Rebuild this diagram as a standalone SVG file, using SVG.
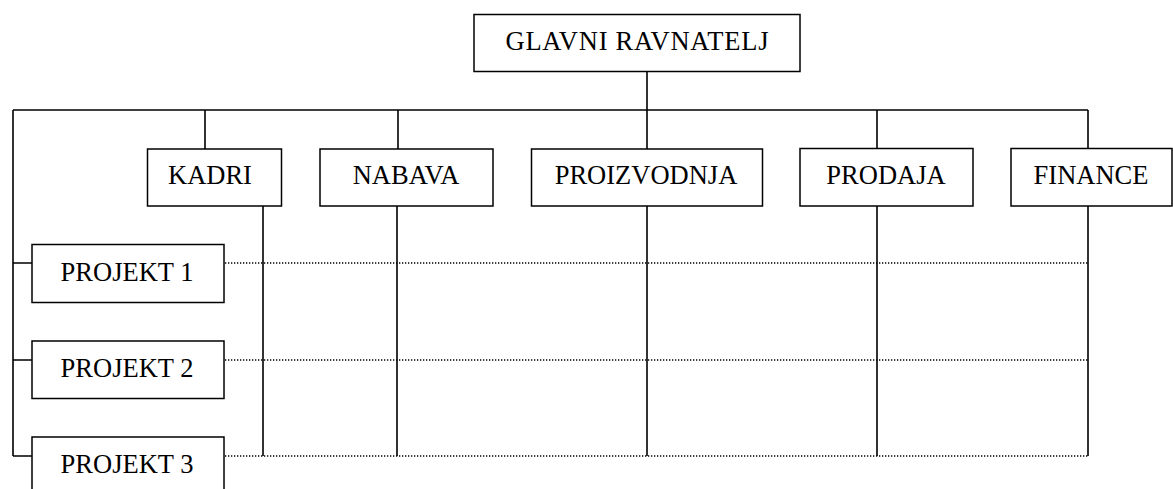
<svg xmlns="http://www.w3.org/2000/svg" width="1173" height="489" viewBox="0 0 1173 489">
<style>
.box{fill:#fff;stroke:#000;stroke-width:1.5}
.t{font-family:"Liberation Serif","Times New Roman",serif;font-size:26.5px;fill:#000;text-anchor:middle}
.ln{fill:none;stroke:#000;stroke-width:1.6}
.dot{fill:none;stroke:#000;stroke-width:1.3;stroke-dasharray:1.3 1.7}
</style>
<rect width="1173" height="489" fill="#fff"/>
<g id="connectors">
<path class="ln" d="M647 72V149M13 110H1088M13 110V456M205 110V149M398 110V149M877 110V149M1088 110V149"/>
<path class="ln" d="M13 263H32M13 360H32M13 456H32"/>
<path class="ln" d="M263 206V456M397 206V456M647 206V456M877 206V456M1088 206V456"/>
<path class="dot" d="M225 263H1088M225 360H1088M225 456H1088"/>
</g>
<g id="glavni"><rect class="box" x="474" y="14.5" width="326" height="57"/><text class="t" x="637" y="50" textLength="263" lengthAdjust="spacing">GLAVNI RAVNATELJ</text></g>
<g id="kadri"><rect class="box" x="147.5" y="149" width="134" height="57"/><text class="t" x="210" y="184">KADRI</text></g>
<g id="nabava"><rect class="box" x="320" y="149" width="173" height="57"/><text class="t" x="406" y="184">NABAVA</text></g>
<g id="proizvodnja"><rect class="box" x="531.5" y="149" width="231" height="57"/><text class="t" x="646" y="184">PROIZVODNJA</text></g>
<g id="prodaja"><rect class="box" x="800" y="148.5" width="173" height="57.5"/><text class="t" x="886" y="184">PRODAJA</text></g>
<g id="finance"><rect class="box" x="1011" y="148.5" width="161" height="57.5"/><text class="t" x="1091" y="184">FINANCE</text></g>
<g id="projekt1"><rect class="box" x="32" y="244.5" width="192" height="58"/><text class="t" x="127" y="281">PROJEKT 1</text></g>
<g id="projekt2"><rect class="box" x="32" y="341" width="192" height="57.5"/><text class="t" x="127" y="377">PROJEKT 2</text></g>
<g id="projekt3"><rect class="box" x="32" y="437" width="192" height="60"/><text class="t" x="127" y="473">PROJEKT 3</text></g>
</svg>
